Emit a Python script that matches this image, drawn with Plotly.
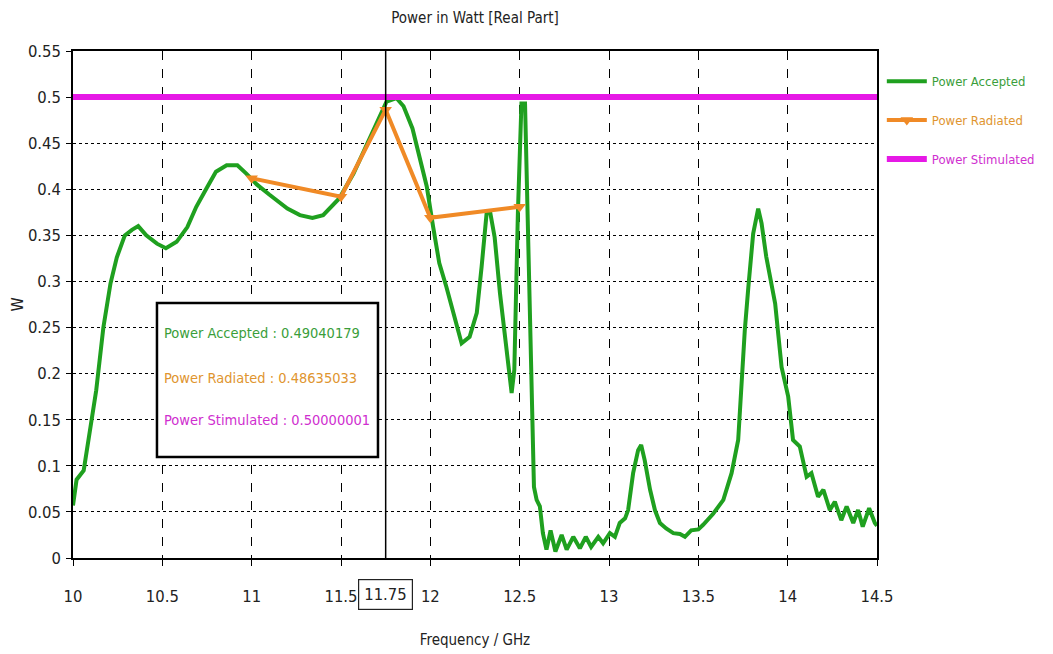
import plotly.graph_objects as go

# ---------------- data ----------------
freq_accepted = [10.0, 10.02, 10.06, 10.095, 10.13, 10.17, 10.21, 10.245, 10.29, 10.33, 10.365, 10.41,
                 10.47, 10.52, 10.58, 10.64, 10.69, 10.75, 10.80, 10.86, 10.92, 10.97, 11.03, 11.10,
                 11.16, 11.20, 11.27, 11.34, 11.40, 11.455, 11.49, 11.57, 11.64, 11.72, 11.755, 11.81,
                 11.85, 11.90, 11.94, 11.98, 12.015, 12.05, 12.09, 12.127, 12.175, 12.22, 12.26, 12.287,
                 12.315, 12.333, 12.36, 12.39, 12.427, 12.455, 12.47, 12.49, 12.51, 12.53, 12.54, 12.557,
                 12.567, 12.572, 12.58, 12.595, 12.613, 12.63, 12.65, 12.673, 12.70, 12.735, 12.763, 12.80,
                 12.837, 12.87, 12.90, 12.94, 12.967, 13.005, 13.033, 13.06, 13.09, 13.107, 13.135, 13.163,
                 13.18, 13.20, 13.23, 13.257, 13.285, 13.32, 13.36, 13.397, 13.425, 13.46, 13.50, 13.527,
                 13.583, 13.64, 13.686, 13.723, 13.742, 13.76, 13.78, 13.807, 13.835, 13.854, 13.88, 13.93,
                 13.966, 14.003, 14.03, 14.068, 14.106, 14.133, 14.17, 14.20, 14.236, 14.264, 14.30, 14.33,
                 14.367, 14.394, 14.42, 14.456, 14.488, 14.5]
power_accepted = [0.057, 0.085, 0.095, 0.139, 0.182, 0.25, 0.298, 0.326, 0.35, 0.356, 0.36, 0.35,
                  0.341, 0.336, 0.343, 0.359, 0.381, 0.402, 0.419, 0.426, 0.426, 0.417, 0.405, 0.394,
                  0.385, 0.379, 0.372, 0.369, 0.372, 0.383, 0.39, 0.417, 0.446, 0.479, 0.495, 0.499,
                  0.49, 0.466, 0.435, 0.403, 0.36, 0.32, 0.294, 0.266, 0.233, 0.240, 0.266, 0.316,
                  0.374, 0.377, 0.348, 0.287, 0.222, 0.179, 0.204, 0.374, 0.493, 0.493, 0.41, 0.266,
                  0.164, 0.121, 0.077, 0.063, 0.056, 0.027, 0.009, 0.030, 0.007, 0.025, 0.009, 0.023,
                  0.0105, 0.023, 0.012, 0.023, 0.016, 0.027, 0.023, 0.038, 0.043, 0.052, 0.092, 0.117,
                  0.1226, 0.106, 0.074, 0.052, 0.038, 0.032, 0.027, 0.026, 0.023, 0.030, 0.031, 0.036,
                  0.048, 0.063, 0.092, 0.128, 0.193, 0.247, 0.294, 0.352, 0.379, 0.363, 0.327, 0.276,
                  0.207, 0.175, 0.128, 0.121, 0.088, 0.092, 0.0665, 0.074, 0.052, 0.061, 0.041, 0.056,
                  0.038, 0.052, 0.034, 0.054, 0.038, 0.035]

freq_radiated = [11.0, 11.5, 11.75, 12.0, 12.5]
power_radiated = [0.412, 0.392, 0.48635033, 0.369, 0.381]

freq_stimulated = [10.0, 14.5]
power_stimulated = [0.5, 0.5]

marker_freq = 11.75
series_names = ["Power Accepted", "Power Radiated", "Power Stimulated"]
marker_values = ["0.49040179", "0.48635033", "0.50000001"]

x_ticks = [10, 10.5, 11, 11.5, 12, 12.5, 13, 13.5, 14, 14.5]
x_tick_labels = ["10", "10.5", "11", "11.5", "12", "12.5", "13", "13.5", "14", "14.5"]
y_ticks = [0, 0.05, 0.1, 0.15, 0.2, 0.25, 0.3, 0.35, 0.4, 0.45, 0.5, 0.55]
y_tick_labels = ["0", "0.05", "0.1", "0.15", "0.2", "0.25", "0.3", "0.35", "0.4", "0.45", "0.5", "0.55"]

# ---------------- style ----------------
FONT = "DejaVu Sans Condensed, Liberation Sans, Arial, sans-serif"
GREEN = "#1fa01f"
ORANGE = "#f08a26"
MAGENTA = "#e619e6"
TXT_COLORS = ["#3a9e3a", "#e0952f", "#cf2fcf"]
INK = "#222222"

W, H = 1045, 646  # page adds an 8px body margin
PLOT_L, PLOT_R, PLOT_T, PLOT_B = 65, 869, 43, 550  # plot area in figure pixels

fig = go.Figure()

fig.add_trace(go.Scatter(
    x=freq_accepted, y=power_accepted, mode="lines",
    line=dict(color=GREEN, width=4),
    name=f"<span style='color:{TXT_COLORS[0]}'>{series_names[0]}</span>", legendgroup="a"))
fig.add_trace(go.Scatter(
    x=freq_radiated, y=power_radiated, mode="lines+markers",
    line=dict(color=ORANGE, width=4),
    marker=dict(symbol="triangle-down", size=11, color=ORANGE),
    name=f"<span style='color:{TXT_COLORS[1]}'>{series_names[1]}</span>", legendgroup="b"))
fig.add_trace(go.Scatter(
    x=freq_stimulated, y=power_stimulated, mode="lines",
    line=dict(color=MAGENTA, width=6),
    name=f"<span style='color:{TXT_COLORS[2]}'>{series_names[2]}</span>", legendgroup="c"))

# marker cursor line
fig.add_shape(type="line", xref="x", yref="y", x0=marker_freq, x1=marker_freq,
              y0=y_ticks[0], y1=y_ticks[-1], line=dict(color="black", width=1.5), layer="above")

# marker value box
fig.add_shape(type="rect", xref="x", yref="y", x0=10.47, x1=11.707, y0=0.1095, y1=0.2766,
              fillcolor="white", line=dict(color="black", width=2.5), layer="above")
box_text_y = [0.244, 0.195, 0.1497]
for name, val, col, ty in zip(series_names, marker_values, TXT_COLORS, box_text_y):
    fig.add_annotation(x=10.498, y=ty, xref="x", yref="y", xanchor="left", yanchor="middle",
                       text=f"{name} : {val}", showarrow=False,
                       font=dict(family=FONT, size=14.5, color=col))

# boxed marker tick label
fig.add_annotation(
    x=marker_freq, y=0, xref="x", yref="paper", yanchor="top", yshift=-21,
    text=f"{marker_freq:g}", showarrow=False, font=dict(family=FONT, size=16.5, color=INK),
    bgcolor="white", bordercolor=INK, borderwidth=1.2, borderpad=5)

fig.update_layout(
    width=W, height=H,
    margin=dict(l=PLOT_L, r=W - PLOT_R, t=PLOT_T, b=H - PLOT_B),
    paper_bgcolor="white", plot_bgcolor="white",
    font=dict(family=FONT, color=INK),
    title=dict(text="Power in Watt [Real Part]", x=467 / W, xanchor="center",
               y=1 - 10 / H, yanchor="middle", font=dict(family=FONT, size=15, color=INK)),
    showlegend=True,
    legend=dict(x=1.006, xanchor="left", y=0.97, yanchor="top",
                font=dict(family=FONT, size=13), bgcolor="rgba(0,0,0,0)",
                tracegroupgap=19, itemwidth=40),
    xaxis=dict(range=[10, 14.5], tickmode="array", tickvals=x_ticks, ticktext=x_tick_labels,
               showline=True, linecolor="black", linewidth=1.5, mirror=True,
               ticks="outside", ticklen=6, tickcolor="black", tickwidth=1.2,
               showgrid=True, gridcolor="black", gridwidth=1.2, griddash="dash",
               zeroline=False, tickfont=dict(family=FONT, size=16.5, color=INK),
               ticklabelstandoff=16, automargin=False,
               title=dict(text="Frequency / GHz", font=dict(family=FONT, size=15, color=INK),
                          standoff=30)),
    yaxis=dict(range=[0, 0.55], tickmode="array", tickvals=y_ticks, ticktext=y_tick_labels,
               showline=True, linecolor="black", linewidth=1.5, mirror=True,
               ticks="outside", ticklen=5, tickcolor="black", tickwidth=1.2,
               showgrid=True, gridcolor="black", gridwidth=1.2, griddash="dot",
               zeroline=False, tickfont=dict(family=FONT, size=16.5, color=INK),
               ticklabelstandoff=2, automargin=False,
               title=dict(text="W", font=dict(family=FONT, size=16, color=INK), standoff=10)),
)

fig.write_html("out.html")
